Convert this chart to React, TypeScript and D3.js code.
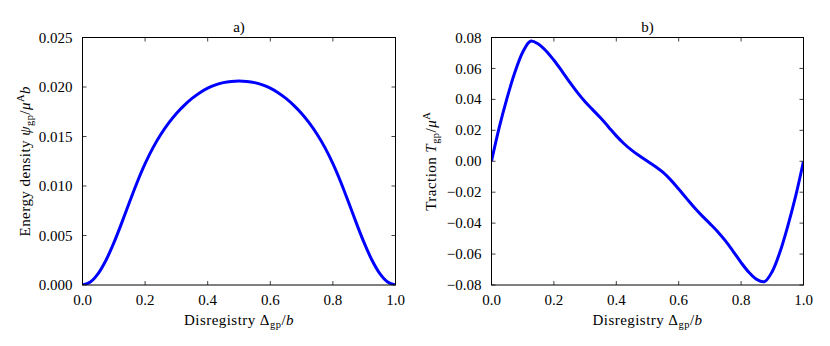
import React from "react";
import * as d3 from "d3";

// ---- Data ----
const energyX = [0, 0.025, 0.05, 0.075, 0.1, 0.125, 0.15, 0.175, 0.2, 0.225, 0.25, 0.275, 0.3, 0.325, 0.35, 0.375, 0.4, 0.425, 0.45, 0.475, 0.5, 0.525, 0.55, 0.575, 0.6, 0.625, 0.65, 0.675, 0.7, 0.725, 0.75, 0.775, 0.8, 0.825, 0.85, 0.875, 0.9, 0.925, 0.95, 0.975, 1.0];
const energyY = [0, 0.0003, 0.00115, 0.0025, 0.00425, 0.00625, 0.00835, 0.0104, 0.01225, 0.01385, 0.0152, 0.01635, 0.01733, 0.01815, 0.01885, 0.01943, 0.01989, 0.02022, 0.02044, 0.02056, 0.0206, 0.02056, 0.02044, 0.02022, 0.01989, 0.01943, 0.01885, 0.01815, 0.01733, 0.01635, 0.0152, 0.01385, 0.01225, 0.0104, 0.00835, 0.00625, 0.00425, 0.0025, 0.00115, 0.0003, 0];

const tractionX = [0, 0.025, 0.05, 0.075, 0.1, 0.125, 0.15, 0.175, 0.2, 0.225, 0.25, 0.275, 0.3, 0.325, 0.35, 0.375, 0.4, 0.425, 0.45, 0.475, 0.5, 0.525, 0.55, 0.575, 0.6, 0.625, 0.65, 0.675, 0.7, 0.725, 0.75, 0.775, 0.8, 0.825, 0.85, 0.875, 0.9, 0.925, 0.95, 0.975, 1.0];
const tractionY = [0, 0.022, 0.041, 0.0575, 0.0705, 0.0776, 0.0758, 0.0713, 0.0653, 0.0585, 0.0513, 0.0445, 0.0385, 0.0332, 0.0279, 0.0222, 0.0164, 0.0113, 0.007, 0.0034, 0, -0.0034, -0.0072, -0.0122, -0.018, -0.024, -0.0299, -0.0353, -0.0403, -0.0455, -0.0515, -0.0584, -0.0655, -0.0718, -0.0764, -0.0778, -0.0712, -0.0584, -0.0416, -0.0224, 0];

const xTicks = [0, 0.2, 0.4, 0.6, 0.8, 1.0];
const energyTicks = [0, 0.005, 0.01, 0.015, 0.02, 0.025];
const tractionTicks = [-0.08, -0.06, -0.04, -0.02, 0, 0.02, 0.04, 0.06, 0.08];

const FONT = "'Liberation Serif', 'Times New Roman', serif";
const FS = 15;
const LS = 0.45;

type PanelProps = {
  id: string;
  left: number;
  right: number;
  top: number;
  bottom: number;
  xs: number[];
  ys: number[];
  yDomain: [number, number];
  yTicks: number[];
  yFmt: (v: number) => string;
  title: string;
  yLabel: React.ReactNode;
  yLabelX: number;
};

function Panel(p: PanelProps) {
  const x = d3.scaleLinear().domain([0, 1]).range([p.left, p.right]);
  const y = d3.scaleLinear().domain(p.yDomain).range([p.bottom, p.top]);
  const pts = p.xs.map((v, i) => [v, p.ys[i]] as [number, number]);
  const line = d3
    .line<[number, number]>()
    .x((d) => x(d[0]))
    .y((d) => y(d[1]))
    .curve(d3.curveCatmullRom.alpha(0.5));
  const tl = 4;
  const cx = (p.left + p.right) / 2;
  const cy = (p.top + p.bottom) / 2;
  const xf = d3.format(".1f");
  return (
    <g>
      <defs>
        <clipPath id={p.id}>
          <rect x={p.left} y={p.top} width={p.right - p.left} height={p.bottom - p.top} />
        </clipPath>
      </defs>
      <path d={line(pts) || ""} fill="none" stroke="#0000ff" strokeWidth={3} clipPath={`url(#${p.id})`} strokeLinejoin="round" />
      {xTicks.map((t) => (
        <g key={"xt" + t}>
          <line x1={x(t)} x2={x(t)} y1={p.bottom} y2={p.bottom - tl} stroke="#444" strokeWidth={1} />
          <line x1={x(t)} x2={x(t)} y1={p.top} y2={p.top + tl} stroke="#444" strokeWidth={1} />
          <text x={x(t)} y={305} textAnchor="middle" fontFamily={FONT} fontSize={FS} fill="#000">
            {xf(t)}
          </text>
        </g>
      ))}
      {p.yTicks.map((t) => (
        <g key={"yt" + t}>
          <line x1={p.left} x2={p.left + tl} y1={y(t)} y2={y(t)} stroke="#444" strokeWidth={1} />
          <line x1={p.right} x2={p.right - tl} y1={y(t)} y2={y(t)} stroke="#444" strokeWidth={1} />
          <text x={p.left - 10} y={y(t)} dy="0.34em" textAnchor="end" fontFamily={FONT} fontSize={FS} fill="#000">
            {p.yFmt(t)}
          </text>
        </g>
      ))}
      <rect x={p.left} y={p.top} width={p.right - p.left} height={p.bottom - p.top} fill="none" stroke="#000" strokeWidth={1} />
      <text x={cx} y={31.5} textAnchor="middle" fontFamily={FONT} fontSize={FS} fill="#000">
        {p.title}
      </text>
      <text x={cx} y={324.5} textAnchor="middle" fontFamily={FONT} fontSize={FS} letterSpacing={LS} fill="#000">
        Disregistry <tspan>Δ</tspan>
        <tspan fontSize={10.5} dy={3}>gp</tspan>
        <tspan dy={-3}>/</tspan>
        <tspan fontStyle="italic">b</tspan>
      </text>
      <text
        transform={`translate(${p.yLabelX},${cy}) rotate(-90)`}
        textAnchor="middle"
        fontFamily={FONT}
        fontSize={FS}
        letterSpacing={LS}
        fill="#000"
      >
        {p.yLabel}
      </text>
    </g>
  );
}

export default function App() {
  const top = 37.5;
  const bottom = 285;
  return (
    <svg width={830} height={346} style={{ position: "absolute", left: 0, top: 0, background: "#fff" }}>
      <rect width={830} height={346} fill="#fff" />
      <Panel
        id="clipA"
        left={82.5}
        right={395.5}
        top={top}
        bottom={bottom}
        xs={energyX}
        ys={energyY}
        yDomain={[0, 0.025]}
        yTicks={energyTicks}
        yFmt={d3.format(".3f")}
        title="a)"
        yLabelX={29.5}
        yLabel={
          <>
            Energy density <tspan fontStyle="italic">ψ</tspan>
            <tspan fontSize={10.5} dy={3}>gp</tspan>
            <tspan dy={-3}>/</tspan>
            <tspan fontStyle="italic">μ</tspan>
            <tspan fontSize={10.5} dy={-6}>A</tspan>
            <tspan fontStyle="italic" dy={6}>b</tspan>
          </>
        }
      />
      <Panel
        id="clipB"
        left={491.5}
        right={803.5}
        top={top}
        bottom={bottom}
        xs={tractionX}
        ys={tractionY}
        yDomain={[-0.08, 0.08]}
        yTicks={tractionTicks}
        yFmt={d3.format(".2f")}
        title="b)"
        yLabelX={436}
        yLabel={
          <>
            Traction <tspan fontStyle="italic">T</tspan>
            <tspan fontSize={10.5} dy={3}>gp</tspan>
            <tspan dy={-3}>/</tspan>
            <tspan fontStyle="italic">μ</tspan>
            <tspan fontSize={10.5} dy={-6}>A</tspan>
          </>
        }
      />
    </svg>
  );
}
